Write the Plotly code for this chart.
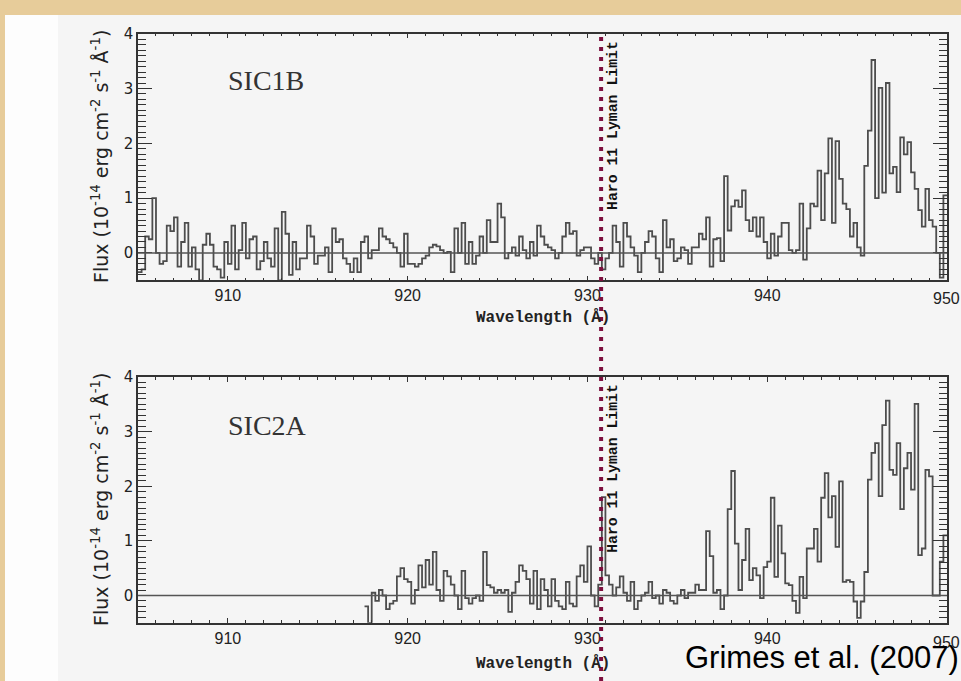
import plotly.graph_objects as go

# ---------------- data ----------------
bin_width = 0.2
top_start = 905.0
top_flux = [
    -0.35, -0.3, 0.3, 0.25, 1.0,
    0.0, -0.2, -0.15, 0.5, 0.4,
    0.65, -0.25, 0.2, 0.55, -0.25,
    0.1, -0.3, -0.5, 0.15, 0.35,
    0.15, -0.25, -0.3, -0.45, 0.2,
    -0.2, 0.5, -0.3, 0.05, 0.55,
    -0.1, 0.25, 0.3, -0.3, -0.15,
    0.2, -0.1, -0.25, 0.45, -0.5,
    0.75, 0.35, -0.4, 0.2, -0.3,
    -0.1, -0.1, 0.5, 0.3, -0.2,
    -0.05, -0.05, 0.1, -0.35, 0.45,
    0.2, 0.25, -0.1, -0.2, -0.35,
    -0.1, -0.35, 0.2, 0.3, -0.1,
    0.05, 0.05, 0.45, 0.3, 0.25,
    0.18, 0.1, 0.0, -0.25, 0.35,
    -0.2, -0.2, -0.25, -0.2, -0.1,
    -0.05, 0.1, 0.15, 0.12, 0.05,
    0.0, 0.02, -0.35, 0.45, 0.0,
    0.55, -0.2, 0.2, -0.2, -0.05,
    0.3, 0.0, 0.6, 0.2, 0.2,
    0.9, 0.65, -0.1, 0.0, 0.1,
    -0.05, 0.3, 0.05, -0.1, 0.2,
    -0.05, 0.5, 0.3, 0.15, 0.1,
    0.05, -0.1, 0.0, 0.3, 0.55,
    0.35, 0.4, -0.05, 0.05, 0.1,
    0.1, -0.1, -0.2, 0.0, -0.3,
    -0.1, 0.0, 0.5, 0.2, -0.25,
    0.55, 0.3, 0.1, -0.05, -0.35,
    0.0, 0.2, 0.4, 0.3, -0.1,
    -0.35, 0.6, 0.1, 0.25, -0.15,
    -0.1, 0.1, 0.05, -0.2, 0.1,
    0.1, 0.35, 0.25, 0.65, -0.25,
    0.25, 0.27, -0.15, 1.4, 0.41,
    0.85, 0.96, 0.84, 1.14, 0.6,
    0.4, 0.65, 0.3, 0.65, 0.2,
    -0.1, 0.35, -0.05, 0.3, 0.55,
    0.55, 0.05, 0.0, 0.05, 0.9,
    -0.12, 0.45, 0.9, 0.85, 1.5,
    0.6, 1.45, 2.09, 0.55, 2.04,
    1.35, 0.9, 0.8, 0.3, 0.55,
    0.1, -0.05, 1.59, 2.23, 3.52,
    1.0, 3.01, 1.1, 3.1, 1.45,
    1.57, 1.11, 2.11, 1.8, 2.02,
    1.47, 1.17, 0.78, 0.48, 1.17,
    0.6, 0.48, 0.0, -0.45, 1.05,
]

bottom_start = 917.6
bottom_flux = [
    -0.2, -0.5,
    0.05, -0.1, 0.1, 0.0, -0.25,
    -0.15, -0.1, 0.35, 0.5, 0.3,
    0.25, -0.15, 0.1, 0.55, 0.15,
    0.65, 0.2, 0.8, 0.1, -0.1,
    0.45, 0.35, 0.2, 0.0, -0.25,
    0.45, -0.05, -0.15, -0.05, 0.0,
    -0.1, 0.8, 0.19, 0.15, 0.05,
    0.1, 0.05, 0.1, -0.3, 0.05,
    0.25, 0.55, 0.45, 0.3, -0.15,
    0.45, -0.25, 0.3, 0.1, -0.2,
    0.3, -0.1, -0.2, -0.25, 0.25,
    -0.15, -0.2, 0.35, 0.55, 0.25,
    0.9, 0.0, -0.2, 0.2, 1.8,
    0.37, 0.2, 0.0, 0.15, 0.35,
    0.05, -0.1, 0.25, -0.25, -0.1,
    0.0, 0.05, 0.25, -0.05, 0.0,
    -0.15, 0.1, 0.05, -0.1, -0.15,
    0.0, 0.1, -0.05, 0.05, 0.05,
    0.2, 0.1, 0.1, 1.18, 0.72,
    0.05, 0.1, -0.25, 0.0, 1.58,
    2.28, 0.95, 0.1, 0.65, 1.22,
    0.28, 0.5, 0.37, -0.05, 0.52,
    0.62, 1.79, 0.34, 1.28, 0.77,
    0.22, 0.19, -0.1, -0.32, 0.34,
    -0.05, 0.86, 0.86, 1.22, 0.62,
    1.79, 2.24, 1.43, 1.82, 0.89,
    2.09, 0.25, 0.28, 0.25, -0.11,
    -0.41, -0.11, 0.43, 2.12, 2.61,
    2.79, 1.82, 3.12, 3.57, 2.3,
    2.21, 2.79, 1.58, 2.33, 2.61,
    1.94, 3.51, 0.74, 0.86, 2.3,
    2.18, 0.0, 0.0, 0.62, 1.1,
]

x_ticks = [910, 920, 930, 940, 950]
x_ticktext = ["910", "920", "930", "940", "950"]
y_ticks = [0, 1, 2, 3, 4]
x_range = [905, 950]
y_range = [-0.5, 4]
lyman_limit = 930.76
panel_labels = ["SIC1B", "SIC2A"]
limit_label = "Haro 11 Lyman Limit"
x_title = "Wavelength (Å)"
y_title = "Flux (10<sup>-14</sup> erg cm<sup>-2</sup> s<sup>-1</sup> Å<sup>-1</sup>)"
credit = "Grimes et al. (2007)"


def edges_and_values(start, flux):
    xs = [round(start + i * bin_width, 3) for i in range(len(flux) + 1)]
    ys = list(flux) + [flux[-1]]
    return xs, ys


W, H = 961, 681


def px(x):
    return x / W


def py(y):
    return 1 - y / H


fig = go.Figure()

line_col = "#4d4d4d"
for i, (start, flux) in enumerate([(top_start, top_flux), (bottom_start, bottom_flux)]):
    xs, ys = edges_and_values(start, flux)
    fig.add_trace(go.Scatter(
        x=xs, y=ys, mode="lines", line=dict(shape="hv", color=line_col, width=1.8),
        xaxis="x" if i == 0 else "x2", yaxis="y" if i == 0 else "y2",
        showlegend=False, hoverinfo="skip"))

axis_col = "#333333"
tick_font_x = dict(family="Liberation Sans", size=16, color="#222")
# the last tick label sits on the page edge, so it is drawn as an annotation below
xax = dict(range=x_range, tickvals=x_ticks, ticktext=x_ticktext[:-1] + [""],
           ticks="inside", ticklen=5, tickwidth=1,
           tickcolor=axis_col, showline=True, linecolor=axis_col, linewidth=1.5,
           mirror="allticks", showgrid=False, zeroline=False,
           tickfont=tick_font_x,
           minor=dict(dtick=1, tick0=905, ticklen=3, ticks="inside", tickcolor=axis_col,
                      showgrid=False))
yax = dict(range=y_range, tickvals=y_ticks, ticks="inside", ticklen=14, tickwidth=1,
           tickcolor=axis_col, showline=True, linecolor=axis_col, linewidth=1.5,
           mirror="allticks", showgrid=False, zeroline=False,
           tickfont=dict(family="DejaVu Sans", size=15, color="#222"),
           minor=dict(dtick=0.1, tick0=0, ticklen=8, ticks="inside", tickcolor=axis_col,
                      showgrid=False))

top_dom_x = [px(138), px(947)]
top_dom_y = [py(275), py(25)]
bot_dom_y = [py(622), py(373)]

fig.update_layout(
    width=W, height=H, margin=dict(l=0, r=0, t=0, b=0),
    paper_bgcolor="#e7cc9a", plot_bgcolor="#f5f5f5",
    xaxis=dict(xax, domain=top_dom_x, anchor="y"),
    yaxis=dict(yax, domain=top_dom_y, anchor="x"),
    xaxis2=dict(xax, domain=top_dom_x, anchor="y2"),
    yaxis2=dict(yax, domain=bot_dom_y, anchor="x2"),
)

shapes = [
    dict(type="rect", xref="paper", yref="paper", x0=px(5), x1=px(58), y0=0, y1=py(6),
         fillcolor="#fdfdfd", line=dict(width=0), layer="below"),
    dict(type="rect", xref="paper", yref="paper", x0=px(58), x1=1, y0=0, y1=py(6),
         fillcolor="#f5f5f5", line=dict(width=0), layer="below"),
]
for xr, yr in [("x", "y"), ("x2", "y2")]:
    shapes.append(dict(type="line", xref=xr + " domain", yref=yr, x0=0, x1=1, y0=0, y1=0,
                       line=dict(color="#555", width=1.6), layer="above"))
shapes.append(dict(type="line", xref="x", yref="paper", x0=lyman_limit, x1=lyman_limit,
                   y0=0, y1=py(28), line=dict(color="#7d0f3e", width=4, dash="4px,6px"),
                   layer="above"))
fig.update_layout(shapes=shapes)

ann = []
for yc in [293, 642]:
    ann.append(dict(text=x_ticktext[-1], x=1, y=py(yc), xref="paper", yref="paper",
                    showarrow=False, font=tick_font_x, xanchor="right", yanchor="middle",
                    xshift=1))
title_font = dict(family="Liberation Mono", size=16, color="#222")
for yc in [313, 663]:
    ann.append(dict(text="<b>" + x_title + "</b>", x=px(542.5), y=py(yc), xref="paper", yref="paper",
                    showarrow=False, font=title_font, xanchor="center", yanchor="middle"))
for yc in [150, 497.5]:
    ann.append(dict(text=y_title, x=px(100), y=py(yc), xref="paper", yref="paper",
                    showarrow=False, textangle=-90,
                    font=dict(family="DejaVu Sans", size=19, color="#222"),
                    xanchor="center", yanchor="middle"))
for lab, yc in zip(panel_labels, [72, 422]):
    ann.append(dict(text=lab, x=px(226), y=py(yc), xref="paper", yref="paper", showarrow=False,
                    font=dict(family="Liberation Serif", size=28, color="#333"),
                    xanchor="left", yanchor="middle"))
for yc in [118.5, 466]:
    ann.append(dict(text="<b>" + limit_label + "</b>", x=px(613), y=py(yc), xref="paper", yref="paper",
                    showarrow=False, textangle=-90,
                    font=dict(family="Liberation Mono", size=14.8, color="#111"),
                    xanchor="center", yanchor="middle"))
ann.append(dict(text=credit, x=px(683), y=py(657), xref="paper", yref="paper", showarrow=False,
                font=dict(family="Liberation Sans", size=31, color="#000"),
                xanchor="left", yanchor="middle"))
fig.update_layout(annotations=ann)

fig.write_html("out.html")
